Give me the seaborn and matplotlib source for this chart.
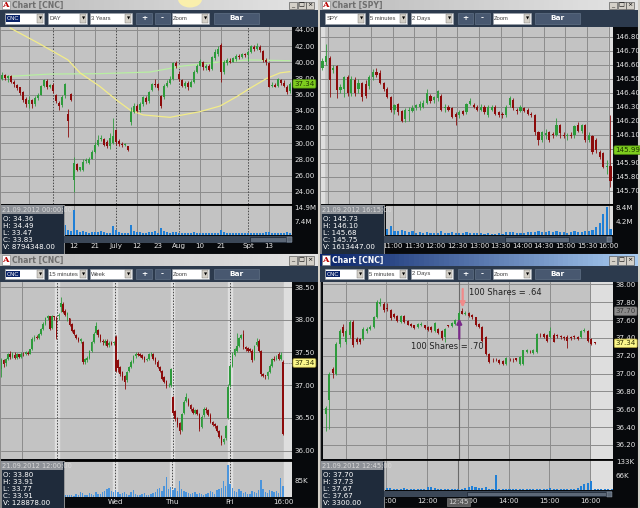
import numpy as np
import matplotlib
matplotlib.use("Agg")
import matplotlib.pyplot as plt
from matplotlib.patches import Rectangle, Ellipse
from matplotlib.colors import LinearSegmentedColormap
import seaborn as sns

sns.set_theme(style="white")
plt.rcParams["font.family"] = ["DejaVu Sans"]

# ---------------- Panel 1 : CNC daily, 3 years ----------------
P1_OPEN = [38.0, 38.4, 38.1, 38.3, 37.6, 37.2, 36.9, 36.3, 35.5, 34.8,
           35.3, 34.9, 35.6, 36.0, 37.1, 37.7, 36.9, 37.2, 36.0, 35.0,
           34.7, 35.9, 33.6, 36.1, 25.4, 27.4, 26.7, 26.7, 27.8, 27.6,
           28.1, 28.9, 29.8, 30.5, 30.5, 30.2, 29.7, 30.0, 31.6, 30.3,
           29.9, 29.8, 29.6, 32.6, 33.9, 34.6, 34.1, 34.8, 35.6, 35.2,
           36.6, 37.3, 37.3, 35.8, 35.7, 37.1, 37.5, 37.9, 39.9, 38.5,
           37.8, 37.1, 37.4, 37.0, 37.6, 38.8, 39.6, 40.0, 39.3, 39.6,
           39.2, 40.5, 41.0, 42.2, 38.8, 39.9, 40.2, 40.1, 40.4, 40.8,
           40.6, 41.0, 40.9, 41.3, 41.9, 41.6, 41.9, 41.4, 40.3, 39.9,
           37.1, 37.2, 37.1, 37.8, 37.5, 37.0, 36.4]
P1_HIGH = [38.8, 38.5, 38.4, 38.4, 37.8, 37.3, 37.0, 36.4, 35.7, 35.8,
           35.5, 35.8, 36.2, 37.2, 38.0, 37.9, 37.3, 37.4, 36.1, 35.2,
           35.9, 37.5, 34.2, 36.2, 28.3, 27.6, 27.1, 28.0, 28.2, 28.3,
           29.1, 30.2, 31.0, 31.0, 30.7, 30.4, 31.2, 33.1, 31.8, 30.5,
           30.1, 30.0, 29.7, 34.5, 35.0, 34.8, 35.1, 35.8, 35.8, 36.5,
           37.4, 37.9, 37.5, 36.0, 37.3, 37.8, 38.3, 40.1, 40.2, 38.9,
           38.0, 37.7, 37.7, 37.8, 39.0, 39.8, 40.4, 40.2, 39.8, 39.8,
           40.8, 41.6, 42.0, 42.4, 40.3, 40.5, 40.5, 40.7, 41.0, 41.0,
           41.2, 41.2, 41.5, 42.2, 42.2, 42.4, 42.1, 41.5, 40.5, 40.0,
           37.6, 37.4, 38.1, 38.0, 37.8, 37.2, 37.6]
P1_LOW = [37.8, 37.8, 37.6, 37.4, 37.0, 36.6, 35.9, 35.1, 34.5, 34.3,
          34.4, 34.6, 35.4, 35.9, 37.0, 36.7, 36.8, 36.2, 35.0, 34.1,
          34.5, 35.6, 30.8, 35.2, 24.0, 26.5, 26.5, 26.6, 27.5, 27.4,
          28.0, 28.8, 29.6, 30.3, 29.6, 29.4, 29.3, 29.9, 29.8, 29.6,
          29.5, 29.6, 29.0, 32.3, 33.7, 33.9, 33.9, 34.6, 34.9, 35.0,
          36.5, 37.0, 36.6, 34.3, 35.5, 36.9, 37.3, 37.8, 39.3, 37.7,
          36.9, 36.8, 36.6, 36.9, 37.5, 38.7, 39.5, 39.1, 39.0, 38.9,
          39.0, 40.3, 40.8, 37.6, 38.6, 39.7, 39.9, 40.0, 40.2, 40.4,
          40.5, 40.6, 40.2, 41.2, 41.4, 41.5, 41.3, 40.0, 39.7, 36.9,
          36.9, 36.9, 37.0, 37.2, 36.9, 36.1, 36.2]
P1_CLOSE = [38.4, 38.1, 38.3, 37.6, 37.3, 36.8, 36.2, 35.4, 34.8, 35.3,
            34.9, 35.6, 36.0, 37.1, 37.8, 36.9, 37.2, 36.4, 35.2, 34.6,
            35.7, 37.3, 32.7, 35.4, 27.5, 26.7, 27.0, 27.7, 27.9, 28.1,
            28.9, 29.8, 30.4, 30.7, 29.8, 29.6, 30.6, 30.9, 30.1, 29.9,
            29.8, 29.9, 29.1, 33.9, 34.6, 34.0, 34.9, 35.7, 35.1, 36.3,
            37.3, 37.2, 36.8, 34.6, 37.1, 37.5, 38.0, 39.9, 39.6, 37.9,
            37.1, 37.5, 36.9, 37.6, 38.8, 39.6, 40.2, 39.4, 39.5, 39.1,
            40.6, 41.3, 41.6, 38.8, 40.0, 40.3, 40.1, 40.5, 40.8, 40.6,
            41.0, 40.9, 41.3, 42.0, 41.6, 42.0, 41.5, 40.3, 40.0, 37.0,
            37.2, 37.0, 37.9, 37.5, 37.1, 36.3, 37.3]
P1_VOL = [2.5, 2.2, 2.0, 2.4, 2.1, 2.6, 2.3, 2.8, 3.0, 2.4,
          2.2, 2.0, 2.5, 2.3, 2.1, 2.0, 1.8, 2.2, 2.6, 3.2,
          2.8, 5.5, 3.0, 2.5, 14.0, 3.0, 2.0, 2.2, 1.8, 1.5,
          1.8, 1.6, 2.0, 2.4, 1.8, 1.2, 1.5, 5.2, 2.8, 2.0,
          1.4, 1.2, 1.5, 5.6, 2.5, 1.8, 1.6, 1.5, 1.3, 2.0,
          1.6, 2.2, 1.5, 4.0, 2.2, 1.8, 1.5, 2.0, 1.6, 1.3,
          1.2, 1.5, 1.3, 1.2, 1.6, 1.4, 1.2, 1.5, 1.2, 1.3,
          1.4, 1.2, 1.3, 3.0, 1.8, 1.3, 1.2, 1.0, 1.2, 1.1,
          1.0, 1.2, 1.5, 1.3, 1.0, 1.1, 1.2, 1.5, 1.8, 2.0,
          1.5, 1.3, 1.2, 1.4, 1.2, 1.6, 1.4]
P1_MA_FAST_X = [2.7, 12.0, 22.0, 26.0, 32.7, 38.3, 42.7, 47.0, 56.0, 66.0, 72.7, 78.2, 82.7, 88.2, 92.7, 96.0]
P1_MA_FAST_Y = [44.25, 42.4, 40.3, 38.7, 37.0, 35.3, 34.1, 33.5, 33.2, 33.9, 34.6, 35.75, 36.8, 38.0, 38.7, 38.85]
P1_MA_SLOW_X = [-0.67, 16.0, 32.7, 49.3, 60.4, 71.6, 82.7, 96.0]
P1_MA_SLOW_Y = [38.2, 38.55, 38.6, 38.8, 39.55, 40.0, 40.3, 40.2]
P1_TIME_POS = [24, 31, 38, 45, 52, 59, 66, 73, 82, 89]
P1_TIME_LABELS = ["12", "21", "July", "12", "23", "Aug", "10", "21", "Spt", "13"]
P1_GRID_SOLID = [9, 24, 31, 45, 52, 66, 73, 89]
P1_GRID_DOTTED = [17, 38, 59, 82]
P1_PRICE_TICKS = [24.0, 26.0, 28.0, 30.0, 32.0, 34.0, 36.0, 38.0, 40.0, 42.0, 44.0]
P1_VOL_TICKS = [7.4, 14.9]
P1_VOL_LABELS = ["7.4M", "14.9M"]
P1_LAST = 37.34
P1_INFO = ["21.09.2012 00:00:00", "O: 34.36", "H: 34.49", "L: 33.47", "C: 33.83", "V: 8794348.00"]

# ---------------- Panel 2 : SPY 5 minutes ----------------
P2_OPEN = [146.58, 146.62, 146.65, 146.56, 146.59, 146.42, 146.43, 146.51, 146.40, 146.49,
           146.43, 146.47, 146.46, 146.45, 146.51, 146.55, 146.54, 146.47, 146.43, 146.37,
           146.28, 146.32, 146.27, 146.21, 146.27, 146.27, 146.29, 146.30, 146.30, 146.33,
           146.38, 146.35, 146.36, 146.38, 146.29, 146.30, 146.29, 146.25, 146.24, 146.27,
           146.26, 146.32, 146.31, 146.30, 146.28, 146.30, 146.24, 146.28, 146.30, 146.26,
           146.25, 146.24, 146.31, 146.35, 146.28, 146.27, 146.29, 146.28, 146.25, 146.24,
           146.12, 146.06, 146.10, 146.12, 146.10, 146.10, 146.17, 146.10, 146.09, 146.10,
           146.10, 146.17, 146.13, 146.17, 146.06, 146.09, 146.06, 145.98, 145.97, 145.87,
           145.88]
P2_HIGH = [146.65, 146.75, 146.66, 146.60, 146.60, 146.46, 146.52, 146.53, 146.52, 146.51,
           146.50, 146.48, 146.49, 146.53, 146.57, 146.58, 146.56, 146.48, 146.44, 146.38,
           146.32, 146.33, 146.28, 146.29, 146.30, 146.31, 146.32, 146.34, 146.35, 146.43,
           146.39, 146.38, 146.42, 146.39, 146.32, 146.31, 146.30, 146.26, 146.28, 146.28,
           146.33, 146.36, 146.33, 146.31, 146.32, 146.31, 146.31, 146.31, 146.31, 146.27,
           146.26, 146.31, 146.38, 146.36, 146.29, 146.31, 146.30, 146.29, 146.26, 146.25,
           146.13, 146.13, 146.14, 146.13, 146.12, 146.22, 146.18, 146.12, 146.11, 146.12,
           146.17, 146.19, 146.18, 146.18, 146.12, 146.10, 146.08, 145.99, 145.98, 145.92,
           146.24]
P2_LOW = [146.56, 146.60, 146.37, 146.54, 146.36, 146.40, 146.37, 146.38, 146.38, 146.38,
          146.40, 146.34, 146.36, 146.43, 146.49, 146.51, 146.46, 146.41, 146.36, 146.26,
          146.25, 146.24, 146.19, 146.19, 146.20, 146.26, 146.28, 146.28, 146.29, 146.32,
          146.33, 146.33, 146.34, 146.27, 146.26, 146.27, 146.22, 146.17, 146.22, 146.24,
          146.25, 146.31, 146.29, 146.27, 146.27, 146.25, 146.23, 146.27, 146.24, 146.23,
          146.22, 146.23, 146.30, 146.28, 146.25, 146.26, 146.26, 146.24, 146.23, 146.10,
          146.03, 146.05, 146.07, 146.05, 146.08, 146.09, 146.08, 146.08, 146.06, 146.08,
          146.08, 146.12, 146.11, 146.05, 146.05, 145.96, 145.97, 145.93, 145.86, 145.82,
          145.73]
P2_CLOSE = [146.63, 146.66, 146.49, 146.58, 146.42, 146.44, 146.51, 146.40, 146.50, 146.40,
            146.47, 146.37, 146.38, 146.51, 146.55, 146.53, 146.47, 146.43, 146.37, 146.28,
            146.31, 146.26, 146.20, 146.28, 146.28, 146.29, 146.31, 146.32, 146.33, 146.40,
            146.34, 146.37, 146.41, 146.28, 146.30, 146.28, 146.23, 146.23, 146.26, 146.25,
            146.32, 146.34, 146.30, 146.28, 146.30, 146.26, 146.30, 146.30, 146.25, 146.24,
            146.24, 146.30, 146.36, 146.29, 146.27, 146.30, 146.27, 146.25, 146.24, 146.12,
            146.06, 146.12, 146.11, 146.06, 146.10, 146.17, 146.11, 146.09, 146.10, 146.09,
            146.16, 146.13, 146.17, 146.06, 146.10, 145.98, 145.99, 145.94, 145.87, 145.88,
            145.77]
P2_VOL = [1.2, 1.5, 2.0, 1.4, 1.8, 1.2, 1.0, 1.3, 1.1, 1.0,
          0.9, 1.2, 1.0, 0.9, 1.0, 0.8, 0.9, 1.0, 2.0, 2.7,
          1.2, 1.2, 1.6, 1.3, 1.0, 1.2, 0.8, 1.0, 0.8, 1.0,
          0.7, 0.8, 0.6, 1.3, 0.8, 0.8, 0.9, 0.7, 0.8, 0.6,
          0.9, 0.7, 0.7, 0.6, 0.6, 0.5, 0.6, 0.5, 0.5, 0.6,
          0.5, 0.9, 1.0, 0.9, 0.8, 0.8, 0.7, 0.9, 1.0, 1.1,
          1.3, 1.1, 1.0, 1.2, 1.0, 1.2, 1.1, 1.0, 0.8, 1.0,
          1.2, 1.0, 1.0, 1.3, 1.2, 1.5, 2.4, 3.8, 6.6, 8.6,
          2.0]
P2_GRID = [1.5, 7.5, 13.5, 19.5, 25.5, 31.5, 37.5, 43.5, 49.5, 55.5, 61.5, 67.5, 73.5, 79.5]
P2_TIME_POS = [19.5, 25.5, 31.5, 37.5, 43.5, 49.5, 55.5, 61.5, 67.5, 73.5, 79.5]
P2_TIME_LABELS = ["11:00", "11:30", "12:00", "12:30", "13:00", "13:30", "14:00", "14:30", "15:00", "15:30", "16:00"]
P2_PRICE_TICKS = [145.7, 145.8, 145.9, 146.0, 146.1, 146.2, 146.3, 146.4, 146.5, 146.6, 146.7, 146.8]
P2_VOL_TICKS = [4.2, 8.4]
P2_VOL_LABELS = ["4.2M", "8.4M"]
P2_LAST = 145.99
P2_INFO = ["21.09.2012 16:15:00", "O: 145.73", "H: 146.10", "L: 145.68", "C: 145.75", "V: 1613447.00"]

# ---------------- Panel 3 : CNC 15 minutes, week ----------------
P3_OPEN = [37.25, 37.38, 37.34, 37.40, 37.47, 37.43, 37.46, 37.42, 37.47, 37.43,
           37.48, 37.47, 37.49, 37.48, 37.55, 37.70, 37.74, 37.72, 37.78, 37.86,
           37.93, 38.02, 38.05, 37.88, 38.05, 38.03, 38.05, 38.19, 38.24, 38.14,
           38.07, 38.02, 37.93, 37.84, 37.76, 37.72, 37.68, 37.66, 37.36, 37.38,
           37.42, 37.52, 37.66, 37.80, 37.84, 37.76, 37.66, 37.64, 37.68, 37.61,
           37.65, 37.64, 37.74, 37.38, 37.28, 37.20, 37.14, 37.08, 37.22, 37.28,
           37.36, 37.44, 37.47, 37.47, 37.46, 37.43, 37.39, 37.40, 37.47, 37.48,
           37.42, 37.36, 37.28, 37.22, 37.12, 37.06, 37.00, 37.00, 36.82, 36.60,
           36.50, 36.42, 36.32, 36.58, 36.76, 36.78, 36.70, 36.64, 36.58, 36.62,
           36.56, 36.36, 36.54, 36.64, 36.62, 36.55, 36.44, 36.41, 36.38, 36.30,
           36.22, 36.14, 36.20, 36.50, 37.00, 37.30, 37.46, 37.52, 37.60, 37.72,
           37.78, 37.58, 37.57, 37.55, 37.53, 37.40, 37.62, 37.68, 37.52, 37.17,
           37.14, 37.14, 37.20, 37.30, 37.40, 37.40, 37.48, 37.40, 37.36]
P3_HIGH = [37.42, 37.40, 37.42, 37.49, 37.52, 37.50, 37.50, 37.49, 37.48, 37.50,
           37.50, 37.52, 37.52, 37.56, 37.73, 37.76, 37.76, 37.80, 37.88, 37.96,
           38.04, 38.07, 38.06, 38.07, 38.06, 38.06, 38.10, 38.35, 38.27, 38.16,
           38.12, 38.03, 37.95, 37.86, 37.78, 37.74, 37.72, 37.68, 37.42, 37.44,
           37.54, 37.68, 37.81, 37.96, 37.86, 37.78, 37.70, 37.70, 37.70, 37.67,
           37.67, 37.68, 37.76, 37.40, 37.30, 37.22, 37.16, 37.22, 37.30, 37.38,
           37.46, 37.50, 37.50, 37.49, 37.48, 37.45, 37.42, 37.49, 37.50, 37.49,
           37.43, 37.38, 37.30, 37.24, 37.14, 37.08, 37.04, 37.27, 36.84, 36.62,
           36.52, 36.44, 36.58, 36.77, 36.88, 36.80, 36.72, 36.66, 36.64, 36.64,
           36.58, 36.54, 36.66, 36.66, 36.64, 36.57, 36.46, 36.43, 36.40, 36.32,
           36.24, 36.20, 36.40, 37.02, 37.32, 37.50, 37.57, 37.80, 37.74, 37.78,
           37.84, 37.60, 37.59, 37.57, 37.55, 37.62, 37.72, 37.70, 37.54, 37.19,
           37.16, 37.22, 37.32, 37.42, 37.44, 37.46, 37.50, 37.50, 37.38]
P3_LOW = [37.12, 37.28, 37.30, 37.38, 37.40, 37.41, 37.40, 37.40, 37.41, 37.42,
          37.45, 37.46, 37.46, 37.47, 37.54, 37.68, 37.70, 37.70, 37.77, 37.85,
          37.92, 38.00, 37.84, 37.86, 38.00, 37.70, 38.00, 38.12, 38.10, 38.05,
          37.98, 37.90, 37.81, 37.76, 37.70, 37.66, 37.64, 37.33, 37.33, 37.36,
          37.40, 37.51, 37.64, 37.78, 37.74, 37.66, 37.62, 37.62, 37.58, 37.59,
          37.62, 37.62, 37.20, 37.20, 37.14, 37.08, 36.95, 37.05, 37.20, 37.26,
          37.34, 37.42, 37.44, 37.43, 37.40, 37.36, 37.37, 37.38, 37.44, 37.38,
          37.33, 37.26, 37.20, 37.08, 37.03, 36.96, 36.98, 36.98, 36.55, 36.45,
          36.36, 36.26, 36.30, 36.56, 36.74, 36.68, 36.61, 36.56, 36.56, 36.54,
          36.30, 36.34, 36.52, 36.58, 36.53, 36.42, 36.38, 36.35, 36.28, 36.19,
          36.08, 36.10, 36.16, 36.48, 36.98, 37.28, 37.44, 37.50, 37.58, 37.70,
          37.56, 37.53, 37.51, 37.50, 37.35, 37.38, 37.60, 37.50, 37.14, 37.12,
          37.10, 37.10, 37.18, 37.28, 37.37, 37.38, 37.38, 37.38, 36.24]
P3_CLOSE = [37.38, 37.33, 37.40, 37.47, 37.43, 37.48, 37.42, 37.47, 37.43, 37.48,
            37.47, 37.50, 37.48, 37.55, 37.70, 37.74, 37.72, 37.79, 37.86, 37.94,
            38.02, 38.05, 37.86, 38.05, 38.04, 37.73, 38.08, 38.26, 38.12, 38.07,
            38.10, 37.92, 37.83, 37.78, 37.72, 37.68, 37.70, 37.36, 37.40, 37.42,
            37.52, 37.66, 37.79, 37.90, 37.76, 37.68, 37.66, 37.68, 37.60, 37.65,
            37.63, 37.66, 37.22, 37.26, 37.17, 37.12, 37.05, 37.20, 37.28, 37.36,
            37.44, 37.47, 37.46, 37.45, 37.42, 37.38, 37.40, 37.47, 37.48, 37.40,
            37.35, 37.28, 37.22, 37.10, 37.05, 36.99, 37.01, 37.25, 36.58, 36.48,
            36.40, 36.30, 36.56, 36.75, 36.82, 36.70, 36.63, 36.58, 36.62, 36.56,
            36.33, 36.52, 36.64, 36.62, 36.55, 36.44, 36.40, 36.37, 36.30, 36.21,
            36.12, 36.18, 36.38, 36.98, 37.30, 37.46, 37.55, 37.60, 37.72, 37.76,
            37.58, 37.55, 37.53, 37.52, 37.38, 37.60, 37.66, 37.52, 37.17, 37.14,
            37.14, 37.20, 37.30, 37.40, 37.39, 37.42, 37.40, 37.46, 36.25]
P3_VOL = [20, 15, 12, 15, 10, 12, 8, 10, 12, 8,
          10, 12, 10, 15, 18, 12, 15, 10, 12, 15,
          20, 12, 25, 18, 15, 20, 18, 25, 15, 12,
          10, 12, 10, 8, 15, 12, 25, 22, 10, 12,
          20, 15, 12, 28, 18, 15, 25, 30, 40, 50,
          30, 25, 35, 25, 15, 20, 25, 15, 12, 25,
          35, 15, 12, 10, 15, 20, 12, 10, 15, 20,
          25, 40, 45, 30, 60, 105, 40, 55, 35, 45,
          30, 82, 40, 30, 25, 20, 15, 20, 25, 18,
          20, 15, 12, 15, 20, 30, 25, 15, 35, 40,
          50, 85, 60, 167, 70, 45, 30, 25, 40, 30,
          20, 25, 18, 15, 30, 25, 20, 35, 88, 40,
          25, 20, 35, 30, 25, 30, 20, 97, 60]
P3_DAY_BREAKS = [25.3, 51.7, 77.8, 103.9]
P3_TIME_POS = [51.7, 77.9, 103.6, 128.2]
P3_TIME_LABELS = ["Wed", "Thu", "Fri", "16:00"]
P3_PRICE_TICKS = [36.0, 36.5, 37.0, 37.5, 38.0, 38.5]
P3_VOL_TICKS = [85]
P3_VOL_LABELS = ["85K"]
P3_LAST = 37.34
P3_INFO = ["21.09.2012 12:00:00", "O: 33.80", "H: 33.91", "L: 33.77", "C: 33.91", "V: 128878.00"]

# ---------------- Panel 4 : CNC 5 minutes, 2 days ----------------
P4_OPEN = [36.55, 36.70, 37.05, 37.00, 37.33, 37.52, 37.35, 37.43, 37.58, 37.39,
           37.39, 37.39, 37.48, 37.50, 37.52, 37.63, 37.78, 37.78, 37.74, 37.71,
           37.67, 37.65, 37.58, 37.65, 37.59, 37.56, 37.54, 37.52, 37.54, 37.54,
           37.52, 37.52, 37.48, 37.50, 37.48, 37.41, 37.54, 37.53, 37.56, 37.58,
           37.70, 37.67, 37.68, 37.66, 37.63, 37.56, 37.52, 37.41, 37.22, 37.15,
           37.16, 37.15, 37.14, 37.11, 37.16, 37.15, 37.17, 37.11, 37.11, 37.24,
           37.25, 37.23, 37.24, 37.43, 37.44, 37.43, 37.41, 37.43, 37.42, 37.41,
           37.40, 37.41, 37.40, 37.41, 37.41, 37.41, 37.48, 37.48, 37.39, 37.35,
           37.34, 37.34, 37.34, 37.34, 37.34]
P4_HIGH = [36.64, 37.02, 37.07, 37.35, 37.50, 37.56, 37.50, 37.60, 37.60, 37.41,
           37.40, 37.52, 37.52, 37.54, 37.65, 37.82, 37.85, 37.80, 37.79, 37.72,
           37.68, 37.66, 37.66, 37.66, 37.60, 37.57, 37.55, 37.57, 37.58, 37.55,
           37.53, 37.53, 37.58, 37.51, 37.49, 37.51, 37.55, 37.58, 37.61, 37.70,
           37.73, 37.70, 37.69, 37.67, 37.64, 37.57, 37.53, 37.42, 37.23, 37.17,
           37.18, 37.16, 37.15, 37.19, 37.18, 37.17, 37.18, 37.20, 37.27, 37.28,
           37.27, 37.28, 37.45, 37.46, 37.45, 37.44, 37.52, 37.45, 37.44, 37.43,
           37.42, 37.43, 37.42, 37.43, 37.42, 37.49, 37.51, 37.49, 37.40, 37.36,
           37.34, 37.34, 37.34, 37.34, 37.34]
P4_LOW = [36.36, 36.38, 36.95, 36.98, 37.30, 37.42, 37.33, 37.40, 37.30, 37.33,
          37.33, 37.38, 37.46, 37.49, 37.51, 37.62, 37.76, 37.69, 37.70, 37.60,
          37.62, 37.58, 37.57, 37.57, 37.54, 37.52, 37.50, 37.51, 37.53, 37.50,
          37.48, 37.47, 37.47, 37.44, 37.38, 37.36, 37.52, 37.52, 37.55, 37.57,
          37.67, 37.66, 37.64, 37.61, 37.53, 37.51, 37.36, 37.21, 37.12, 37.13,
          37.14, 37.11, 37.10, 37.10, 37.14, 37.13, 37.14, 37.10, 37.10, 37.23,
          37.23, 37.22, 37.23, 37.41, 37.40, 37.36, 37.40, 37.35, 37.40, 37.39,
          37.38, 37.29, 37.38, 37.39, 37.38, 37.40, 37.47, 37.36, 37.32, 37.33,
          37.34, 37.34, 37.34, 37.34, 37.34]
P4_CLOSE = [36.62, 37.00, 37.01, 37.33, 37.48, 37.45, 37.48, 37.58, 37.32, 37.35,
            37.35, 37.50, 37.50, 37.52, 37.63, 37.80, 37.80, 37.71, 37.72, 37.62,
            37.63, 37.59, 37.65, 37.58, 37.55, 37.53, 37.51, 37.56, 37.56, 37.51,
            37.49, 37.49, 37.57, 37.45, 37.40, 37.50, 37.53, 37.57, 37.60, 37.68,
            37.67, 37.68, 37.65, 37.63, 37.54, 37.52, 37.37, 37.22, 37.13, 37.15,
            37.16, 37.12, 37.11, 37.18, 37.16, 37.15, 37.15, 37.19, 37.26, 37.26,
            37.25, 37.27, 37.44, 37.43, 37.41, 37.37, 37.48, 37.36, 37.42, 37.41,
            37.40, 37.37, 37.40, 37.41, 37.39, 37.48, 37.49, 37.37, 37.33, 37.34,
            37.34, 37.34, 37.34, 37.34, 37.34]
P4_VOL = [30, 25, 20, 18, 15, 12, 10, 12, 10, 8,
          8, 10, 8, 6, 8, 10, 6, 5, 10, 8,
          5, 6, 4, 8, 5, 4, 5, 6, 4, 5,
          12, 12, 8, 4, 5, 4, 3, 5, 4, 3,
          6, 10, 12, 18, 15, 10, 8, 12, 5, 6,
          70, 6, 4, 5, 4, 3, 4, 5, 4, 3,
          4, 5, 6, 4, 3, 5, 8, 6, 4, 5,
          4, 6, 5, 4, 8, 18, 28, 32, 40, 6,
          5, 4, 3, 5, 3]
P4_GRID = [5.75, 17.75, 29.75, 41.75, 53.75, 65.75, 77.75]
P4_CURSOR = 39.0
P4_TIME_POS = [17.75, 29.75, 41.75, 53.75, 65.75, 77.75]
P4_TIME_LABELS = ["11:00", "12:00", "13:00", "14:00", "15:00", "16:00"]
P4_PRICE_TICKS = [36.2, 36.4, 36.6, 36.8, 37.0, 37.2, 37.4, 37.6, 37.8, 38.0]
P4_VOL_TICKS = [66, 133]
P4_VOL_LABELS = ["66K", "133K"]
P4_LAST = 37.34
P4_MARK = 37.70
P4_INFO = ["21.09.2012 12:45:00", "O: 37.70", "H: 37.73", "L: 37.67", "C: 37.67", "V: 3300.00"]
P4_NOTE_SELL = "100 Shares = .64"
P4_NOTE_BUY = "100 Shares = .70"

# ---------------- drawing ----------------
W, H = 640, 508
fig = plt.figure(figsize=(W / 100, H / 100), dpi=100)
fig.patch.set_facecolor("#d4d0c8")

UP, DOWN = "#2e9b3c", "#8c0b0b"
CHART_BG, GRID, LIGHT, TXT = "#c3c3c3", "#8c8c8c", "#dedede", "#e6e6e6"
AX_FS = 5.1
TOOL_FS = 4.2
TOOL_FONT = ["Liberation Sans", "DejaVu Sans"]


def pax(x, y, w, h, z=1):
    ax = fig.add_axes([x / W, 1 - (y + h) / H, w / W, h / H])
    ax.set_zorder(z)
    return ax


def canvas(X0, Y0, z):
    ax = pax(X0, Y0, 318, 254, z)
    ax.set_xlim(0, 318)
    ax.set_ylim(254, 0)
    ax.axis("off")
    return ax


def chrome(bg, title, active, fields, t_bot, tb_bot):
    bg.add_patch(Rectangle((0, 0), 318, 254, fc="#07090c", ec="#8a8a8a", lw=0.8, zorder=0))
    cols = ["#0a246a", "#a6caf0"] if active else ["#bcbcbc", "#e4e4e4"]
    cmap = LinearSegmentedColormap.from_list("tb", cols)
    bg.imshow(np.linspace(0, 1, 64)[None, :], extent=(0, 318, t_bot, 0), aspect="auto", cmap=cmap, zorder=1)
    bg.set_xlim(0, 318)
    bg.set_ylim(254, 0)
    bg.add_patch(Rectangle((1.5, 1), 8, t_bot - 2, fc="white", ec="#7a7a7a", lw=0.4, zorder=2))
    bg.text(5.5, t_bot / 2 + 0.3, "A", color="#b80000", fontsize=6, family="DejaVu Serif",
            fontweight="bold", ha="center", va="center", zorder=3)
    bg.text(12, t_bot / 2, title, color="white" if active else "#6e6e6e", fontsize=5.6,
            fontweight="bold", ha="left", va="center", zorder=3)
    for bx, sym in ((289, "_"), (297.5, "□"), (306, "×")):
        bg.add_patch(Rectangle((bx, 1.5), 8, t_bot - 3, fc="#d4d0c8", ec="#404040", lw=0.4, zorder=2))
        bg.text(bx + 4, t_bot / 2, sym, fontsize=4.5, ha="center", va="center", color="black", zorder=3)
    bg.add_patch(Rectangle((0, t_bot), 318, tb_bot - t_bot, fc="#2c3a4d", ec="none", zorder=1))
    y0, y1 = t_bot + 3, tb_bot - 3
    yc = (y0 + y1) / 2
    for kind, x0, x1, label in fields:
        if kind == "btn":
            bg.add_patch(Rectangle((x0, y0), x1 - x0, y1 - y0, fc="#485870", ec="#6a7a90", lw=0.4, zorder=2))
            bg.text((x0 + x1) / 2, yc, label, color="white", fontsize=5.3, fontweight="bold",
                    ha="center", va="center", zorder=3)
        else:
            bg.add_patch(Rectangle((x0, y0), x1 - x0, y1 - y0, fc="white", ec="#9aa0a8", lw=0.4, zorder=2))
            bg.add_patch(Rectangle((x1 - 7, y0 + 0.8), 6.3, y1 - y0 - 1.6, fc="#d4d0c8", ec="#707070",
                                   lw=0.3, zorder=3))
            bg.text(x1 - 3.85, yc, "▼", fontsize=3, ha="center", va="center", color="black", zorder=4)
            if kind == "sel":
                bg.text(x0 + 1.5, yc, label, color="white", fontsize=TOOL_FS, family=TOOL_FONT,
                        ha="left", va="center", zorder=4,
                        bbox=dict(boxstyle="square,pad=0.12", fc="#0a246a", ec="none"))
            else:
                bg.text(x0 + 1.2, yc, label, color="#404040", fontsize=TOOL_FS, family=TOOL_FONT,
                        ha="left", va="center", zorder=4)


def info_box(ov, top, lines, step):
    ov.add_patch(Rectangle((0.5, top), 63, 253.5 - top, fc="#1f2b3b", ec="#a0a0a0", lw=0.6, zorder=5))
    ov.add_patch(Rectangle((0.9, top + 0.4), 62.2, 8.3, fc="#8e9298", ec="none", zorder=6))
    ov.text(2, top + 4.6, lines[0], color="#d8d8d8", fontsize=4.8, ha="left", va="center", zorder=7)
    for i, s in enumerate(lines[1:]):
        ov.text(3, top + 14 + step * i, s, color="white", fontsize=5.1, ha="left", va="center", zorder=7)


def scrollbar(ov, x0, x1, y0, y1, t0, t1):
    ov.add_patch(Rectangle((x0, y0), x1 - x0, y1 - y0, fc="#3b4757", ec="none", zorder=5))
    ov.add_patch(Rectangle((t0, y0 + 0.6), t1 - t0, y1 - y0 - 1.2, fc="#5c6878", ec="#1a2230", lw=0.5, zorder=6))
    ov.add_patch(Rectangle((x1 - 5, y0 + 0.5), 4.5, y1 - y0 - 1, fc="#5c6878", ec="#9aa4b0", lw=0.3, zorder=6))


def chart_axes(x, y, w, h, xlim, ylim, ticks):
    ax = pax(x, y, w, h, 2)
    ax.set_facecolor(CHART_BG)
    ax.set_xlim(*xlim)
    ax.set_ylim(*ylim)
    ax.set_yticks(ticks)
    ax.set_yticklabels([f"{t:.2f}" for t in ticks])
    ax.yaxis.tick_right()
    ax.tick_params(axis="y", length=0, pad=1.8, labelsize=AX_FS, labelcolor=TXT)
    ax.set_xticks([])
    ax.grid(axis="y", color=GRID, lw=0.7)
    ax.set_axisbelow(True)
    for s in ax.spines.values():
        s.set_visible(False)
    return ax


def candles(ax, o, h, l, c, width):
    o, h, l, c = (np.asarray(v, dtype=float) for v in (o, h, l, c))
    x = np.arange(len(o))
    cols = np.where(c > o, UP, DOWN)
    y0, y1 = ax.get_ylim()
    mind = 0.004 * (y1 - y0)
    ax.vlines(x, l, h, colors=cols, lw=0.6, zorder=3)
    ax.bar(x, np.maximum(np.abs(c - o), mind), bottom=np.minimum(o, c), width=width,
           color=cols, lw=0, zorder=4)


def vol_axes(x, y, w, h, xlim, ylim, vol, color, width, vticks, vlabels, tpos, tlabels, pad):
    ax = pax(x, y, w, h, 2)
    sns.barplot(x=np.arange(len(vol)), y=vol, native_scale=True, color=color, saturation=1,
                width=width, errorbar=None, ax=ax, linewidth=0, zorder=3)
    ax.set_facecolor(CHART_BG)
    ax.set_xlim(*xlim)
    ax.set_ylim(*ylim)
    ax.set_xlabel("")
    ax.set_ylabel("")
    ax.set_yticks(vticks)
    ax.set_yticklabels(vlabels)
    ax.yaxis.tick_right()
    ax.tick_params(axis="y", length=0, pad=1.8, labelsize=AX_FS, labelcolor=TXT)
    ax.set_xticks(tpos)
    ax.set_xticklabels(tlabels)
    ax.tick_params(axis="x", length=0, pad=pad, labelsize=AX_FS, labelcolor=TXT)
    ax.grid(False)
    for k, s in ax.spines.items():
        s.set_visible(k == "top")
    ax.spines["top"].set_color("black")
    ax.spines["top"].set_linewidth(1.3)
    return ax


def price_tag(ax, price, label, fc, tc, ec):
    ax.annotate(label, xy=(1, price), xycoords=("axes fraction", "data"), xytext=(1.6, 0),
                textcoords="offset points", ha="left", va="center", fontsize=AX_FS, color=tc,
                bbox=dict(boxstyle="round,pad=0.18", fc=fc, ec=ec, lw=0.5),
                annotation_clip=False, zorder=20)


def vlines_both(axes, xs, color, ls="-", lw=0.7):
    for a in axes:
        for xv in xs:
            a.axvline(xv, color=color, lw=lw, ls=ls, zorder=1)


# ---------- Window 1 ----------
bg = canvas(0, 0, 0)
chrome(bg, "Chart [CNC]", False,
       [("sel", 5, 44, "CNC"), ("combo", 48, 87, "DAY"), ("combo", 90, 132, "3 Years"),
        ("btn", 136, 152, "+"), ("btn", 155, 170, "-"), ("combo", 172, 209, "Zoom"), ("btn", 214, 259, "Bar")],
       10, 27)
bg.add_patch(Ellipse((190, -1), 24, 17, fc="#fff3a8", ec="none", alpha=0.9, zorder=5))
ax1 = chart_axes(1, 27, 291, 177, (-0.33, 96.67), (22.48, 44.37), P1_PRICE_TICKS)
sns.lineplot(x=P1_MA_SLOW_X, y=P1_MA_SLOW_Y, ax=ax1, color="#b8eea2", lw=0.9, estimator=None, sort=False, legend=False, zorder=2)
sns.lineplot(x=P1_MA_FAST_X, y=P1_MA_FAST_Y, ax=ax1, color="#f3ec88", lw=0.9, estimator=None, sort=False, legend=False, zorder=2)
ax1.set_xlim(-0.33, 96.67)
ax1.set_ylim(22.48, 44.37)
ax1.set_xlabel("")
ax1.set_ylabel("")
candles(ax1, P1_OPEN, P1_HIGH, P1_LOW, P1_CLOSE, 0.62)
price_tag(ax1, P1_LAST, f"{P1_LAST:.2f}", "#7dcc1e", "#1d3300", "#4d8a10")
av1 = vol_axes(64, 205, 228, 30.3, (20.67, 96.67), (0, 16.5), P1_VOL, "#1f7fd6", 0.6,
               P1_VOL_TICKS, P1_VOL_LABELS, P1_TIME_POS, P1_TIME_LABELS, 5.5)
vlines_both([ax1, av1], P1_GRID_SOLID, GRID)
vlines_both([ax1, av1], P1_GRID_DOTTED, "#4a4a4a", ls=(0, (1.5, 1.5)))
ov = canvas(0, 0, 5)
info_box(ov, 205, P1_INFO, 7)
scrollbar(ov, 64, 292, 236, 242.5, 250, 286)

# ---------- Window 2 ----------
bg = canvas(320, 0, 0)
chrome(bg, "Chart [SPY]", False,
       [("combo", 5, 45, "SPY"), ("combo", 49, 87, "5 minutes"), ("combo", 91, 133, "2 Days"),
        ("btn", 138, 153, "+"), ("btn", 155, 170, "-"), ("combo", 173, 211, "Zoom"), ("btn", 215, 260, "Bar")],
       10, 27)
ax2 = chart_axes(320.5, 27, 292.5, 177, (-0.55, 80.7), (145.605, 146.87), P2_PRICE_TICKS)
ax2.axvspan(-0.55, 0.45, color=LIGHT, zorder=0.1)
ax2.axvspan(79.5, 80.7, color=LIGHT, zorder=0.1)
candles(ax2, P2_OPEN, P2_HIGH, P2_LOW, P2_CLOSE, 0.62)
price_tag(ax2, P2_LAST, f"{P2_LAST:.2f}", "#7dcc1e", "#1d3300", "#4d8a10")
av2 = vol_axes(385.7, 205, 227.3, 30.3, (17.56, 80.7), (0, 9.2), P2_VOL, "#1f7fd6", 0.6,
               P2_VOL_TICKS, P2_VOL_LABELS, P2_TIME_POS, P2_TIME_LABELS, 5.5)
av2.axvspan(79.5, 80.7, color=LIGHT, zorder=0.1)
vlines_both([ax2, av2], P2_GRID, GRID)
ov = canvas(320, 0, 5)
info_box(ov, 205, P2_INFO, 7)
scrollbar(ov, 64, 292, 236, 242.5, 185, 249)

# ---------- Window 3 ----------
bg = canvas(0, 254, 0)
chrome(bg, "Chart [CNC]", False,
       [("sel", 5, 44, "CNC"), ("combo", 48, 87, "15 minutes"), ("combo", 90, 132, "Week"),
        ("btn", 136, 152, "+"), ("btn", 155, 170, "-"), ("combo", 172, 209, "Zoom"), ("btn", 214, 259, "Bar")],
       12, 28)
ax3 = chart_axes(1, 282, 291, 177, (-0.15, 132.1), (35.873, 38.577), P3_PRICE_TICKS)
av3 = vol_axes(63.3, 461.3, 228.7, 36, (28.2, 132.1), (0, 184), P3_VOL, "#4a94dc", 0.65,
               P3_VOL_TICKS, P3_VOL_LABELS, P3_TIME_POS, P3_TIME_LABELS, 1.2)
for a in (ax3, av3):
    for d in P3_DAY_BREAKS:
        a.axvspan(d - 0.9, d + 0.9, color=LIGHT, zorder=0.1)
    a.axvspan(128.5, 132.1, color=LIGHT, zorder=0.1)
vlines_both([ax3, av3], [9.2], GRID)
vlines_both([ax3, av3], P3_DAY_BREAKS, "#4a4a4a", ls=(0, (1.5, 1.5)))
candles(ax3, P3_OPEN, P3_HIGH, P3_LOW, P3_CLOSE, 0.7)
ax3.hlines(P3_LAST, 128.6, 132.1, color="#555555", lw=0.6, ls=(0, (1, 1.5)), zorder=3)
price_tag(ax3, P3_LAST, f"{P3_LAST:.2f}", "#fbf78a", "#303000", "#b0a040")
ov = canvas(0, 254, 5)
info_box(ov, 207, P3_INFO, 6.9)

# ---------- Window 4 ----------
bg = canvas(320, 254, 0)
chrome(bg, "Chart [CNC]", True,
       [("sel", 5, 44, "CNC"), ("combo", 48, 87, "5 minutes"), ("combo", 91, 133, "2 Days"),
        ("btn", 138, 153, "+"), ("btn", 155, 170, "-"), ("combo", 173, 211, "Zoom"), ("btn", 215, 260, "Bar")],
       12, 28)
ax4 = chart_axes(322.7, 282, 290.6, 177, (-0.97, 84.5), (36.043, 38.027), P4_PRICE_TICKS)
av4 = vol_axes(384.3, 460, 229, 30, (17.2, 84.5), (0, 139), P4_VOL, "#1f7fd6", 0.6,
               P4_VOL_TICKS, P4_VOL_LABELS, P4_TIME_POS, P4_TIME_LABELS, 5.8)
for a in (ax4, av4):
    a.axvspan(77.9, 84.5, color=LIGHT, zorder=0.1)
vlines_both([ax4, av4], P4_GRID, GRID)
vlines_both([ax4, av4], [P4_CURSOR], "#6a6a6a", lw=0.8)
candles(ax4, P4_OPEN, P4_HIGH, P4_LOW, P4_CLOSE, 0.6)
price_tag(ax4, P4_MARK, f"{P4_MARK:.2f}", "#8a8a8a", "#3a3a3a", "#606060")
price_tag(ax4, P4_LAST, f"{P4_LAST:.2f}", "#fbf78a", "#303000", "#b0a040")
ax4.annotate("", xy=(40.2, 37.71), xytext=(40.2, 37.98),
             arrowprops=dict(arrowstyle="-|>", color="#f08a8a", lw=1.6, mutation_scale=7), zorder=8)
ax4.annotate("", xy=(39.2, 37.65), xytext=(39.2, 37.36),
             arrowprops=dict(arrowstyle="-|>", color="#7a2a8a", lw=1.6, mutation_scale=7), zorder=8)
ax4.text(42.1, 37.905, P4_NOTE_SELL, fontsize=6, color="#202020", ha="left", va="center", zorder=9)
ax4.text(24.9, 37.307, P4_NOTE_BUY, fontsize=6, color="#202020", ha="left", va="center", zorder=9)
av4.text(P4_CURSOR, -0.41, "12:45", transform=av4.get_xaxis_transform(), fontsize=AX_FS,
         color="#d0d0d0", ha="center", va="center", clip_on=False, zorder=20,
         bbox=dict(boxstyle="square,pad=0.15", fc="#5e5e5e", ec="#8a8a8a", lw=0.4))
ov = canvas(320, 254, 5)
info_box(ov, 207, P4_INFO, 6.9)
scrollbar(ov, 64, 292, 237, 243, 147, 286)

fig.savefig("out.png", dpi=100, facecolor=fig.get_facecolor())
